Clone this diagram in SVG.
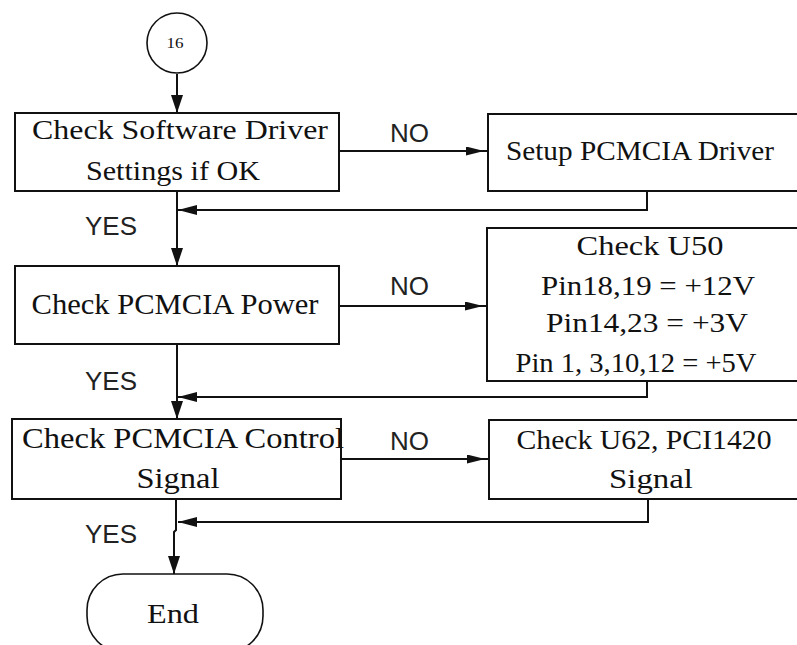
<svg xmlns="http://www.w3.org/2000/svg" width="797" height="645" viewBox="0 0 797 645">
<style>
.box{fill:#fff;stroke:#111;stroke-width:2}
.ln{fill:none;stroke:#111;stroke-width:2}
.t{font-family:"Liberation Serif","Times New Roman",serif;font-size:27px;fill:#111;text-anchor:middle}
.tb{font-size:30px}
.s{font-family:"Liberation Sans",Arial,sans-serif;font-size:26px;fill:#222}
</style>
<defs>
<marker id="arr" markerUnits="userSpaceOnUse" markerWidth="20" markerHeight="14" refX="18" refY="6" orient="auto">
<path d="M0,0 L18,6 L0,12 Z" fill="#111"/>
</marker>
<marker id="arrNo" markerUnits="userSpaceOnUse" markerWidth="26" markerHeight="12" refX="22" refY="4.5" orient="auto">
<path d="M0,0 L18,4.5 L0,9 Z" fill="#111"/>
</marker>
<marker id="arrBack" markerUnits="userSpaceOnUse" markerWidth="22" markerHeight="12" refX="19" refY="5" orient="auto">
<path d="M0,0 L19,5 L0,10 Z" fill="#111"/>
</marker>
</defs>

<g id="connectors">
<path class="ln" d="M177,74 V113" marker-end="url(#arr)"/>
<path class="ln" d="M177,191 V266" marker-end="url(#arr)"/>
<path class="ln" d="M177,344 V419" marker-end="url(#arr)"/>
<path class="ln" d="M176,499 V530 L174,532 V574" marker-end="url(#arr)"/>
<path class="ln" d="M339,151 H488" marker-end="url(#arrNo)"/>
<path class="ln" d="M339,306 H487" marker-end="url(#arrNo)"/>
<path class="ln" d="M341,459 H489" marker-end="url(#arrNo)"/>
<path class="ln" d="M647,191 V210 H178" marker-end="url(#arrBack)"/>
<path class="ln" d="M647,381 V397 H178" marker-end="url(#arrBack)"/>
<path class="ln" d="M648,499 V522 H178" marker-end="url(#arrBack)"/>
<text class="s" x="85" y="235" textLength="52" lengthAdjust="spacingAndGlyphs">YES</text>
<text class="s" x="85" y="390" textLength="52" lengthAdjust="spacingAndGlyphs">YES</text>
<text class="s" x="85" y="543" textLength="52" lengthAdjust="spacingAndGlyphs">YES</text>
<text class="s" x="390" y="142" textLength="39" lengthAdjust="spacingAndGlyphs">NO</text>
<text class="s" x="390" y="295" textLength="39" lengthAdjust="spacingAndGlyphs">NO</text>
<text class="s" x="390" y="450" textLength="39" lengthAdjust="spacingAndGlyphs">NO</text>
</g>

<g id="start">
<circle cx="177" cy="43" r="30" fill="#fff" stroke="#111" stroke-width="1.6"/>
<text class="t" x="175" y="48" style="font-size:15px" textLength="17" lengthAdjust="spacingAndGlyphs">16</text>
</g>

<g id="check-driver">
<rect class="box" x="15" y="113" width="324" height="78"/>
<text class="t" x="180" y="139" textLength="296" lengthAdjust="spacingAndGlyphs">Check Software Driver</text>
<text class="t" x="173" y="180" textLength="174" lengthAdjust="spacingAndGlyphs">Settings if OK</text>
</g>

<g id="setup-driver">
<rect class="box" x="488" y="114" width="330" height="77"/>
<text class="t" x="640" y="160" textLength="268" lengthAdjust="spacingAndGlyphs">Setup PCMCIA Driver</text>
</g>

<g id="check-power">
<rect class="box" x="15" y="266" width="324" height="78"/>
<text class="t tb" x="175" y="314" textLength="287" lengthAdjust="spacingAndGlyphs">Check PCMCIA Power</text>
</g>

<g id="check-u50">
<rect class="box" x="487" y="228" width="330" height="153"/>
<text class="t" x="650" y="255" textLength="147" lengthAdjust="spacingAndGlyphs">Check U50</text>
<text class="t" x="648" y="295" textLength="214" lengthAdjust="spacingAndGlyphs">Pin18,19 = +12V</text>
<text class="t" x="647" y="332" textLength="202" lengthAdjust="spacingAndGlyphs">Pin14,23 = +3V</text>
<text class="t" x="636" y="372" textLength="241" lengthAdjust="spacingAndGlyphs">Pin 1, 3,10,12 = +5V</text>
</g>

<g id="check-control">
<rect class="box" x="12" y="419" width="329" height="80"/>
<text class="t tb" x="183" y="448" textLength="322" lengthAdjust="spacingAndGlyphs">Check PCMCIA Control</text>
<text class="t tb" x="178" y="488" textLength="83" lengthAdjust="spacingAndGlyphs">Signal</text>
</g>

<g id="check-u62">
<rect class="box" x="489" y="420" width="330" height="79"/>
<text class="t" x="644" y="449" textLength="255" lengthAdjust="spacingAndGlyphs">Check U62, PCI1420</text>
<text class="t" x="651" y="488" textLength="84" lengthAdjust="spacingAndGlyphs">Signal</text>
</g>

<g id="end">
<rect x="87" y="574" width="176" height="78" rx="36" ry="36" fill="#fff" stroke="#111" stroke-width="1.6"/>
<text class="t" x="173" y="623" textLength="52" lengthAdjust="spacingAndGlyphs">End</text>
</g>
</svg>
